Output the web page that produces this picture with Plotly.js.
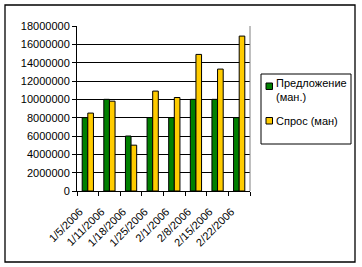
<!DOCTYPE html>
<html><head><meta charset="utf-8">
<script src="https://cdn.plot.ly/plotly-3.0.1.min.js"></script>
<style>html,body{margin:0;padding:0;background:#fff;}#c{width:362px;height:267px;}</style>
</head><body><div id="c"></div>
<script>
const dates = ["1/5/2006","1/11/2006","1/18/2006","1/25/2006","2/1/2006","2/8/2006","2/15/2006","2/22/2006"];
const supply = [8000000,10000000,6000000,8000000,8000000,10000000,10000000,8000000];
const demand = [8500000,9800000,5000000,10900000,10200000,14900000,13300000,16900000];
const seriesNames = ["Предложение<br>(ман.)","Спрос (ман)"];
const seriesColors = ["#008000","#FFCC00"];

const W=362,H=267,L=77,R=250,T=26,B=191;
const pw=R-L, ph=B-T;
const px = x => (x-L)/pw;
const py = y => (B-y)/ph;

const traces = [supply, demand].map((v,i)=>({
  type:'bar', x:dates, y:v, name:seriesNames[i],
  marker:{color:seriesColors[i], line:{color:'#000', width:1}},
  showlegend:false, hoverinfo:'none'
}));

const shapes = [
  {type:'rect', xref:'paper', yref:'paper', x0:px(5), x1:px(355), y0:py(5), y1:py(262), line:{color:'#000', width:1.3}},
  {type:'line', xref:'paper', yref:'paper', x0:1, x1:1, y0:0, y1:1, line:{color:'#808080', width:1}},
  {type:'rect', xref:'paper', yref:'paper', x0:px(261), x1:px(351), y0:py(74), y1:py(144), line:{color:'#000', width:1}},
  {type:'rect', xref:'paper', yref:'paper', x0:px(266), x1:px(272.5), y0:py(83), y1:py(89.5), fillcolor:seriesColors[0], line:{color:'#000', width:1}},
  {type:'rect', xref:'paper', yref:'paper', x0:px(266), x1:px(272.5), y0:py(117.5), y1:py(124), fillcolor:seriesColors[1], line:{color:'#000', width:1}}
];
const annotations = [
  {xref:'paper', yref:'paper', x:px(274), y:py(90), xanchor:'left', yanchor:'middle', text:seriesNames[0], showarrow:false, align:'left', font:{size:11,color:'#000'}},
  {xref:'paper', yref:'paper', x:px(274), y:py(121), xanchor:'left', yanchor:'middle', text:seriesNames[1], showarrow:false, align:'left', font:{size:11,color:'#000'}}
];

const layout = {
  width:W, height:H,
  margin:{l:L, r:W-R, t:T, b:H-B, pad:0},
  paper_bgcolor:'#fff', plot_bgcolor:'#fff',
  font:{family:'"Liberation Sans", Arial, sans-serif', size:11, color:'#000'},
  barmode:'group', bargap:0.48, bargroupgap:0,
  xaxis:{type:'category', showline:true, linecolor:'#000', linewidth:1, ticks:'outside', tickson:'boundaries', ticklen:4, tickcolor:'#000', tickangle:-45, ticklabelstandoff:9, ticklabelshift:-8, showgrid:false, fixedrange:true},
  yaxis:{range:[0,18000000], dtick:2000000, tickformat:'d', showline:true, linecolor:'#000', linewidth:1, ticks:'outside', ticklen:4, tickcolor:'#000', showgrid:true, gridcolor:'#000', gridwidth:1, zeroline:false, fixedrange:true},
  shapes:shapes, annotations:annotations, showlegend:false
};
Plotly.newPlot('c', traces, layout, {staticPlot:true});
</script></body></html>
